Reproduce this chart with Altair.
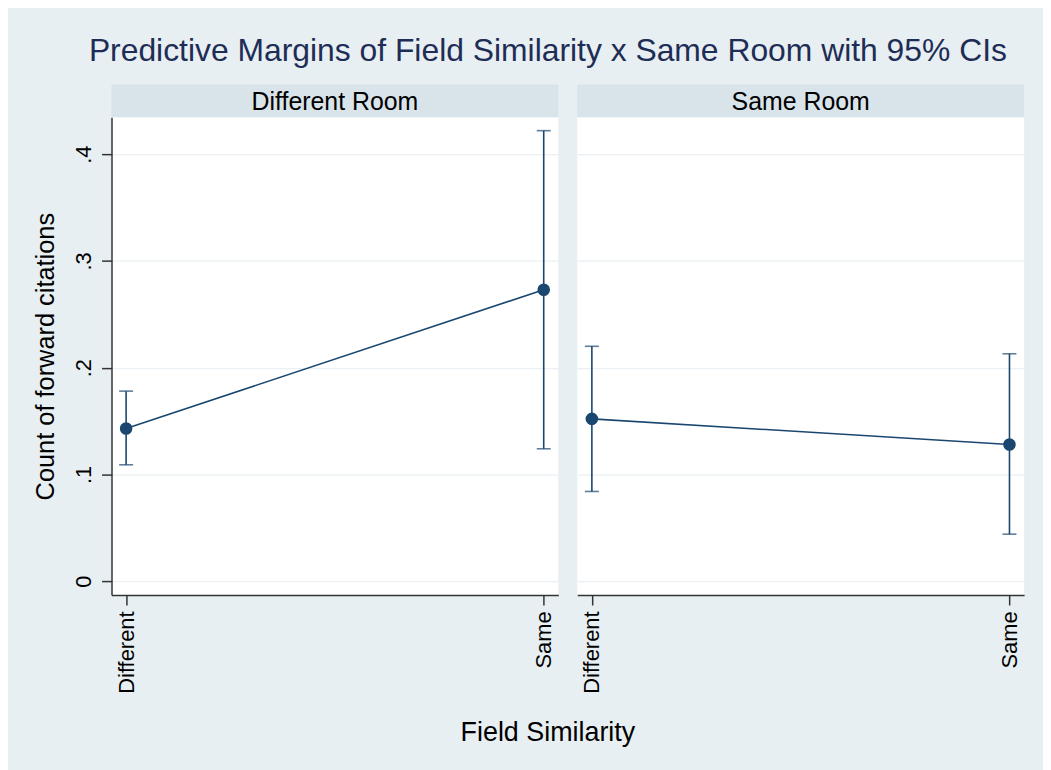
import altair as alt
import pandas as pd

rooms = ["Different Room", "Same Room"]
similarity = ["Different", "Same"]
margins = {"Different Room": [0.143, 0.273], "Same Room": [0.152, 0.128]}
ci_low = {"Different Room": [0.109, 0.124], "Same Room": [0.084, 0.044]}
ci_high = {"Different Room": [0.178, 0.422], "Same Room": [0.220, 0.213]}
y_ticks = [0, 0.1, 0.2, 0.3, 0.4]

NAVY = "#1a476f"
BG = "#e8eff2"
STRIP = "#d8e4ea"
FONT = "Liberation Sans"
W, H = 449, 480
STRIP_H = 33

y_scale = alt.Scale(domain=[-0.013, 0.4345], nice=False, zero=False)
x_scale = alt.Scale(type="point", padding=0.035, domain=similarity)


def panel(room, show_y):
    df = pd.DataFrame({
        "sim": similarity,
        "margin": margins[room],
        "lo": ci_low[room],
        "hi": ci_high[room],
    })
    lab = pd.DataFrame({"room": [room]})
    if show_y:
        y_axis = alt.Axis(values=y_ticks, title="Count of forward citations",
                          labelExpr="datum.value === 0 ? '0' : replace(format(datum.value, '.1f'), '0.', '.')",
                          labelAngle=-90, labelAlign="center", labelBaseline="bottom",
                          labelFontSize=22, labelPadding=6, tickSize=10,
                          titleFontSize=25.5, titlePadding=14, grid=True)
    else:
        y_axis = alt.Axis(values=y_ticks, title=None, labels=False, ticks=False,
                          domain=False, grid=True)
    x_axis = alt.Axis(title=None, labelAngle=-90, labelFontSize=22,
                      tickSize=10, labelPadding=6, grid=False)

    base = alt.Chart(df)
    strip = alt.Chart(lab).mark_rect(color=STRIP).encode(
        x=alt.value(0), x2=alt.value(W), y=alt.value(-STRIP_H), y2=alt.value(0))
    strip_text = alt.Chart(lab).mark_text(fontSize=25, font=FONT, color="black",
                                         baseline="middle", align="center").encode(
        x=alt.value(W / 2), y=alt.value(-STRIP_H / 2 + 1), text="room:N")
    rules = base.mark_rule(color=NAVY, strokeWidth=1.6).encode(
        x=alt.X("sim:N", scale=x_scale, axis=x_axis),
        y=alt.Y("lo:Q", scale=y_scale, axis=y_axis),
        y2="hi:Q")
    cap_lo = base.mark_tick(color=NAVY, size=14, thickness=1.6, orient="horizontal").encode(
        x=alt.X("sim:N", scale=x_scale), y=alt.Y("lo:Q", scale=y_scale))
    cap_hi = base.mark_tick(color=NAVY, size=14, thickness=1.6, orient="horizontal").encode(
        x=alt.X("sim:N", scale=x_scale), y=alt.Y("hi:Q", scale=y_scale))
    line = base.mark_line(color=NAVY, strokeWidth=1.6).encode(
        x=alt.X("sim:N", scale=x_scale), y=alt.Y("margin:Q", scale=y_scale))
    pts = base.mark_point(color=NAVY, filled=True, size=160, opacity=1).encode(
        x=alt.X("sim:N", scale=x_scale), y=alt.Y("margin:Q", scale=y_scale))
    return alt.layer(strip, strip_text, rules, cap_lo, cap_hi, line, pts).properties(
        width=W, height=H)


left = panel(rooms[0], True)
right = panel(rooms[1], False)

inner = alt.hconcat(left, right, spacing=19).properties(
    title=alt.TitleParams("Field Similarity", orient="bottom", anchor="middle",
                          fontSize=27, font=FONT, color="black", fontWeight="normal",
                          offset=27, dx=19)
)

chart = alt.vconcat(inner).properties(
    background=BG,
    padding={"left": 26, "top": 25, "right": 19, "bottom": 26},
    title=alt.TitleParams("Predictive Margins of Field Similarity x Same Room with 95% CIs",
                          fontSize=32, font=FONT, color="#1e2d55", fontWeight="normal",
                          anchor="middle", offset=17, dx=19),
).configure_view(stroke=None, fill="white").configure_axis(
    labelFont=FONT, titleFont=FONT, labelColor="black", titleColor="black",
    domainColor="#333333", tickColor="#333333", gridColor="#eaf0f3", gridWidth=1.2,
    titleFontWeight="normal", domainWidth=1.5, tickWidth=1.5,
)

chart.save("out.html", embed_options={"renderer": "svg", "actions": False})
